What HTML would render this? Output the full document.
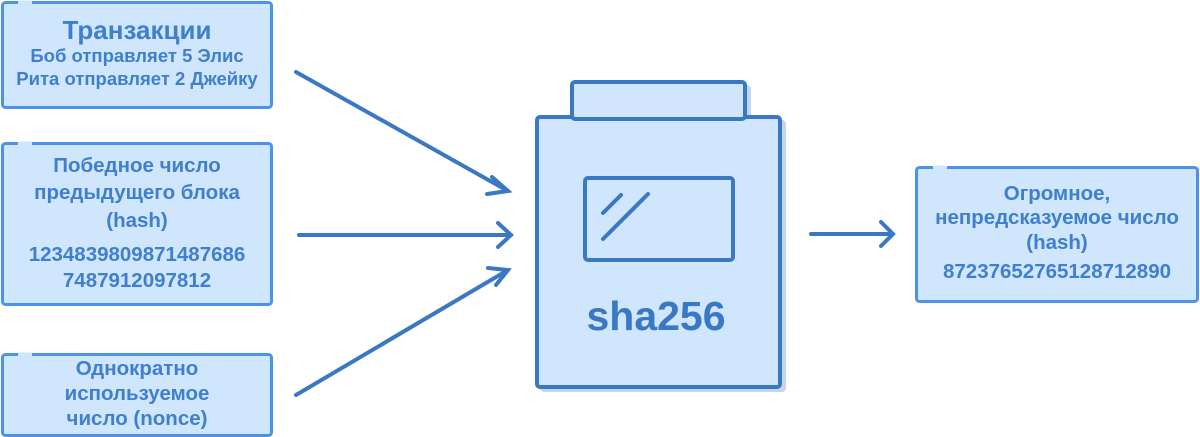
<!DOCTYPE html>
<html><head><meta charset="utf-8"><style>
html,body{margin:0;padding:0;background:#fff;width:1200px;height:437px;overflow:hidden}
text{font-family:"Liberation Sans",sans-serif;font-weight:bold;fill:#3f7fcc;text-anchor:middle}
</style></head><body>
<svg width="1200" height="437" viewBox="0 0 1200 437" xmlns="http://www.w3.org/2000/svg">
<g fill="#cfe6fc" stroke="#4b93e8" stroke-width="3">
<rect x="2.5" y="2.5" width="269" height="105" rx="3"/>
<rect x="2.5" y="143.5" width="269" height="161" rx="3"/>
<rect x="2.5" y="354.5" width="269" height="81" rx="3"/>
<rect x="916.5" y="167.5" width="281" height="134" rx="3"/>
</g>
<g stroke="#cfe6fc" stroke-width="4"><line x1="18" y1="2.5" x2="32" y2="2.5"/><line x1="18" y1="143.5" x2="32" y2="143.5"/><line x1="18" y1="354.5" x2="32" y2="354.5"/><line x1="933" y1="167.5" x2="947" y2="167.5"/></g>
<text x="137" y="39" font-size="26">Транзакции</text>
<text x="137" y="62" font-size="18.5">Боб отправляет 5 Элис</text>
<text x="137" y="85" font-size="18.5">Рита отправляет 2 Джейку</text>
<text x="137" y="172" font-size="20.5">Победное число</text>
<text x="137" y="199" font-size="20.5">предыдущего блока</text>
<text x="137" y="227" font-size="20.5">(hash)</text>
<text x="137" y="261" font-size="20.5">1234839809871487686</text>
<text x="137" y="287" font-size="20.5">7487912097812</text>
<text x="137" y="375" font-size="20.5">Однократно</text>
<text x="137" y="400" font-size="20.5">используемое</text>
<text x="137" y="425" font-size="20.5">число (nonce)</text>
<text x="1057" y="200" font-size="20.5">Огромное,</text>
<text x="1057" y="224" font-size="20.5">непредсказуемое число</text>
<text x="1057" y="249" font-size="20.5">(hash)</text>
<text x="1057" y="278" font-size="20.5">87237652765128712890</text>
<!-- jar -->
<g fill="#c4d6ea"><rect x="575" y="85" width="176" height="39" rx="4"/><rect x="540" y="120" width="246" height="272" rx="4"/></g>
<g fill="#cfe6fc" stroke="#3b78c4" stroke-width="4" stroke-linejoin="round">
<rect x="537" y="117" width="243" height="270" rx="3"/>
<rect x="572" y="82" width="173" height="37" rx="3"/>
<rect x="585" y="178" width="148" height="82" rx="3"/>
</g>
<g stroke="#3b78c4" stroke-width="4" stroke-linecap="round" fill="none">
<line x1="603" y1="213" x2="621" y2="195"/>
<line x1="603" y1="239" x2="648" y2="194"/>
<line x1="296" y1="72" x2="508" y2="191"/><polyline points="492,177 508,191 487,194"/>
<line x1="299" y1="235" x2="511" y2="235"/><polyline points="498,223 511,235 498,247"/>
<line x1="296" y1="395" x2="508" y2="270"/><polyline points="488,268 508,270 496,285"/>
<line x1="811" y1="234" x2="892" y2="234"/><polyline points="881,222 893,234 881,246"/>
</g>
<text x="656" y="330" font-size="41" style="fill:#3b78c4">sha256</text>
</svg>
</body></html>
